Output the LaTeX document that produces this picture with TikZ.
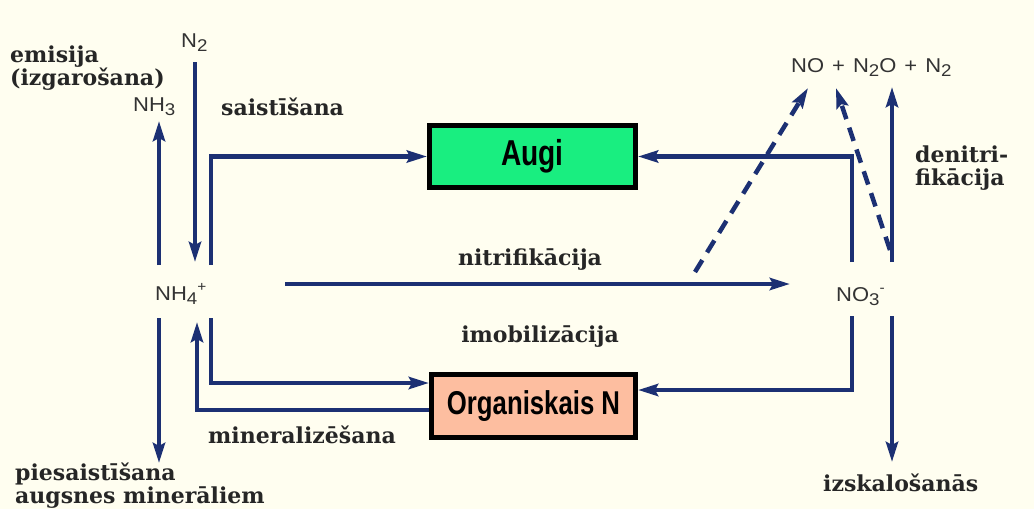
\documentclass[tikz,border=0pt]{standalone}
\usepackage{fontspec}
\usetikzlibrary{arrows.meta}
\newfontfamily\lblfont{DejaVu Serif}
\newfontfamily\chemfont[FakeStretch=1.1]{Liberation Sans}
\newfontfamily\boxfont[FakeStretch=0.78]{Liberation Sans}
\definecolor{bgcream}{RGB}{255,254,240}
\definecolor{navy}{RGB}{28,48,115}
\definecolor{augigreen}{RGB}{25,238,128}
\definecolor{orgsalmon}{RGB}{253,190,160}
\newcommand\dn[1]{\raisebox{-0.22em}{\fontsize{17}{17}\selectfont #1}}
\newcommand\upi[1]{\raisebox{0.45em}{\fontsize{14}{14}\selectfont #1}}
\tikzset{
  flow/.style={draw=navy, line width=4.5pt, -{Stealth[length=20pt,width=12pt,inset=3pt]}},
  dashflow/.style={flow, dash pattern=on 14pt off 9pt},
  boxnode/.style={draw=black, line width=5pt, inner sep=0pt},
  lbl/.style={inner sep=0pt, font=\lblfont\bfseries\fontsize{22}{23}\selectfont, text=black!85},
  chem/.style={inner sep=0pt, font=\chemfont\fontsize{20}{22}\selectfont, text=black!80}
}
\begin{document}
\begin{tikzpicture}[x=1pt,y=-1pt]
\useasboundingbox (0,0) rectangle (1034,509);
\fill[bgcream] (0,0) rectangle (1034,509);

% boxes
\node[boxnode, fill=augigreen, minimum width=206pt, minimum height=62pt] (augi) at (532.5,156.5)
  {\boxfont\bfseries\fontsize{36}{36}\selectfont Augi};
\node[boxnode, fill=orgsalmon, minimum width=204pt, minimum height=63pt] (org) at (533.5,406)
  {\boxfont\bfseries\fontsize{33}{33}\selectfont Organiskais N};

% chemical labels
\node[chem, anchor=base west] (n2) at (181,47) {N\dn{2}};
\node[chem, anchor=base west] (nh3) at (133,111) {NH\dn{3}};
\node[chem, anchor=base west] (nh4) at (155,300) {NH\dn{4}\upi{+}};
\node[chem, anchor=base west] (no3) at (836,301) {NO\dn{3}\upi{-}};
\node[chem, anchor=base west] (gases) at (791,72)
  {NO\hspace{8pt}+\hspace{8pt}N\dn{2}O\hspace{8pt}+\hspace{8pt}N\dn{2}};

% process labels
\node[lbl, anchor=base west, align=left] (emis) at (10,85) {emisija\\(izgarošana)};
\node[lbl, anchor=base west] (saist) at (221,115) {saistīšana};
\node[lbl, anchor=base] (nitr) at (530,265) {nitrifikācija};
\node[lbl, anchor=base] (imob) at (540,342) {imobilizācija};
\node[lbl, anchor=base west] (miner) at (208,443) {mineralizēšana};
\node[lbl, anchor=base west, align=left] (pies) at (15,503) {piesaistīšana\\augsnes minerāliem};
\node[lbl, anchor=base west, align=left] (denit) at (915,185) {denitri-\\fikācija};
\node[lbl, anchor=base west] (izsk) at (823,491) {izskalošanās};

% connector end points
\coordinate (n2a) at (195,62);
\coordinate (n2b) at (195,262);
\coordinate (nh3a) at (159,265);
\coordinate (nh3b) at (159,121);
\coordinate (aua) at (211,265);
\coordinate (orga) at (211,318);
\coordinate (minb) at (197,322);
\coordinate (piea) at (159,318);
\coordinate (pieb) at (159,463);
\coordinate (nita) at (285,284);
\coordinate (nitb) at (790,284);
\coordinate (aub) at (852,262);
\coordinate (orgb) at (852,316);
\coordinate (dena) at (892,262);
\coordinate (denb) at (892,87);
\coordinate (izsa) at (892,316);
\coordinate (izsb) at (892,462);
\coordinate (da1) at (695,272);
\coordinate (db1) at (808,88);
\coordinate (da2) at (890,250);
\coordinate (db2) at (836,88);

% connectors
\draw[flow] (n2a) -- (n2b);
\draw[flow] (nh3a) -- (nh3b);
\draw[flow] (aua) |- (augi.west);
\draw[flow] (orga) |- ([yshift=23pt]org.west);
\draw[flow] ([yshift=-4pt]org.west) -| (minb);
\draw[flow] (piea) -- (pieb);
\draw[flow] (nita) -- (nitb);
\draw[flow] (aub) |- (augi.east);
\draw[flow] (orgb) |- ([yshift=16pt]org.east);
\draw[flow] (dena) -- (denb);
\draw[flow] (izsa) -- (izsb);
\draw[dashflow] (da1) -- (db1);
\draw[dashflow] (da2) -- (db2);
\end{tikzpicture}
\end{document}
